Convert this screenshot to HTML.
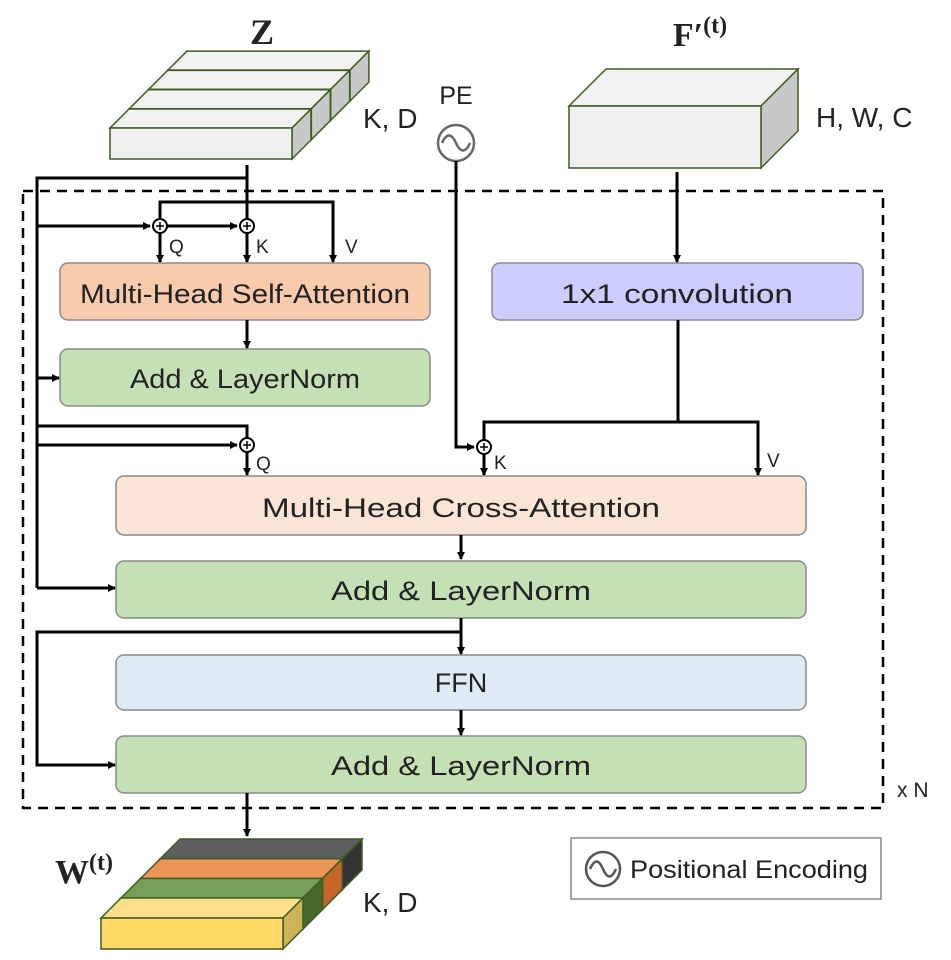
<!DOCTYPE html>
<html><head><meta charset="utf-8"><style>
html,body{margin:0;padding:0;background:#fff;}
svg{display:block;}
text{font-family:"Liberation Sans",sans-serif;fill:#222;}
</style></head><body>
<svg width="951" height="960" viewBox="0 0 951 960" xmlns="http://www.w3.org/2000/svg">
<defs>
<marker id="a" markerWidth="8" markerHeight="8" refX="7" refY="4" orient="auto" markerUnits="userSpaceOnUse"><path d="M0,0 L8,4 L0,8 z" fill="#000"/></marker>
</defs>
<text x="262" y="44" font-weight="bold" font-size="36" text-anchor="middle" style="font-family:'Liberation Serif',serif">Z</text>
<g stroke="#3d5c22" stroke-width="1.5">
<g transform="translate(57.9,-57.9)"><polygon points="110,128 292,128 311,109 129,109" fill="#f2f2f2"/><polygon points="292,128 311,109 311,140 292,159" fill="#c8c8c8"/><rect x="110" y="128" width="182" height="31" fill="#f0f0f0"/></g>
<g transform="translate(38.6,-38.6)"><polygon points="110,128 292,128 311,109 129,109" fill="#f2f2f2"/><polygon points="292,128 311,109 311,140 292,159" fill="#c8c8c8"/><rect x="110" y="128" width="182" height="31" fill="#f0f0f0"/></g>
<g transform="translate(19.3,-19.3)"><polygon points="110,128 292,128 311,109 129,109" fill="#f2f2f2"/><polygon points="292,128 311,109 311,140 292,159" fill="#c8c8c8"/><rect x="110" y="128" width="182" height="31" fill="#f0f0f0"/></g>
<g><polygon points="110,128 292,128 311,109 129,109" fill="#f2f2f2"/><polygon points="292,128 311,109 311,140 292,159" fill="#c8c8c8"/><rect x="110" y="128" width="182" height="31" fill="#f0f0f0"/></g>
</g>
<text x="363" y="128" font-size="28">K, D</text>
<text x="456" y="104" font-size="25" text-anchor="middle">PE</text>
<circle cx="456" cy="143" r="18" fill="#fff" stroke="#666" stroke-width="2.5"/>
<path d="M442,143 C447,132 452,134 456,143 C460,152 465,154 470,143" fill="none" stroke="#666" stroke-width="2.5"/>
<text x="700" y="46" font-size="34" font-weight="bold" text-anchor="middle" style="font-family:'Liberation Serif',serif">F′<tspan font-size="24" dy="-13">(t)</tspan></text>
<g stroke="#3d5c22" stroke-width="1.5">
<polygon points="569,106 761,106 798,69 606,69" fill="#f2f2f2"/>
<polygon points="761,106 798,69 798,131 761,168" fill="#c8c8c8"/>
<rect x="569" y="106" width="192" height="62" fill="#f0f0f0"/>
</g>
<text x="816" y="127" font-size="28">H, W, C</text>
<rect x="23" y="191" width="860" height="617" fill="none" stroke="#000" stroke-width="2.5" stroke-dasharray="10,7"/>
<text x="897" y="797" font-size="21">x N</text>
<g stroke="#8a8a8a" stroke-width="1.5">
<rect x="60" y="263" width="370" height="57" rx="8" fill="#f8cbad"/>
<rect x="60" y="349" width="370" height="57" rx="8" fill="#c5e0b4"/>
<rect x="492" y="263" width="371" height="57" rx="8" fill="#ccccff"/>
<rect x="116" y="476" width="690" height="59" rx="8" fill="#fbe5d6"/>
<rect x="116" y="561" width="690" height="57" rx="8" fill="#c5e0b4"/>
<rect x="116" y="655" width="690" height="55" rx="8" fill="#deebf7"/>
<rect x="116" y="736" width="690" height="57" rx="8" fill="#c5e0b4"/>
</g>
<g font-size="27" text-anchor="middle">
<text x="245" y="303" textLength="330" lengthAdjust="spacingAndGlyphs">Multi-Head Self-Attention</text>
<text x="245" y="388" textLength="230" lengthAdjust="spacingAndGlyphs">Add &amp; LayerNorm</text>
<text x="677" y="303" textLength="232" lengthAdjust="spacingAndGlyphs">1x1 convolution</text>
<text x="461" y="517" textLength="398" lengthAdjust="spacingAndGlyphs">Multi-Head Cross-Attention</text>
<text x="461" y="600" textLength="260" lengthAdjust="spacingAndGlyphs">Add &amp; LayerNorm</text>
<text x="461" y="692">FFN</text>
<text x="461" y="775" textLength="260" lengthAdjust="spacingAndGlyphs">Add &amp; LayerNorm</text>
</g>
<g stroke="#000" stroke-width="3" fill="none">
<path d="M247,165 V219"/>
<path d="M247,178 H37 V588"/>
<path d="M37,226 H150" marker-end="url(#a)"/>
<path d="M167,226 H237" marker-end="url(#a)"/>
<path d="M160,219 V202 H333 V262" marker-end="url(#a)"/>
<path d="M160,233 V262" marker-end="url(#a)"/>
<path d="M247,233 V262" marker-end="url(#a)"/>
<path d="M247,320 V348" marker-end="url(#a)"/>
<path d="M37,378 H59" marker-end="url(#a)"/>
<path d="M37,426 H247 V438"/>
<path d="M37,445 H237" marker-end="url(#a)"/>
<path d="M247,452 V475" marker-end="url(#a)"/>
<path d="M456,161 V447 H474" marker-end="url(#a)"/>
<path d="M484,440 V422 H758 V475" marker-end="url(#a)"/>
<path d="M678,320 V422"/>
<path d="M484,454 V475" marker-end="url(#a)"/>
<path d="M677,172 V262" marker-end="url(#a)"/>
<path d="M461,535 V559" marker-end="url(#a)"/>
<path d="M37,588 H115" marker-end="url(#a)"/>
<path d="M461,618 V654" marker-end="url(#a)"/>
<path d="M461,632 H37 V765 H115" marker-end="url(#a)"/>
<path d="M461,710 V735" marker-end="url(#a)"/>
<path d="M247,793 V836" marker-end="url(#a)"/>
</g>
<g stroke="#000" stroke-width="2" fill="#fff">
<circle cx="160" cy="226" r="7"/><circle cx="247" cy="226" r="7"/><circle cx="247" cy="445" r="7"/><circle cx="484" cy="447" r="7"/>
</g>
<g stroke="#000" stroke-width="1.5">
<path d="M156,226 H164 M160,222 V230"/><path d="M243,226 H251 M247,222 V230"/><path d="M243,445 H251 M247,441 V449"/><path d="M480,447 H488 M484,443 V451"/>
</g>
<g font-size="19">
<text x="169" y="253">Q</text><text x="256" y="253">K</text><text x="345" y="253">V</text>
<text x="256" y="470">Q</text><text x="494" y="469">K</text><text x="767" y="467">V</text>
</g>
<text x="55" y="883" font-size="34" font-weight="bold" style="font-family:'Liberation Serif',serif">W<tspan font-size="24" dy="-13">(t)</tspan></text>
<g stroke="#3d5c22" stroke-width="1.5">
<g transform="translate(59,-59)"><polygon points="101,918 283,918 303,898 121,898" fill="#5e5e5e"/><polygon points="283,918 303,898 303,929 283,949" fill="#333"/><rect x="101" y="918" width="182" height="31" fill="#555"/></g>
<g transform="translate(39.3,-39.3)"><polygon points="101,918 283,918 303,898 121,898" fill="#ee9659"/><polygon points="283,918 303,898 303,929 283,949" fill="#c5652a"/><rect x="101" y="918" width="182" height="31" fill="#e8894a"/></g>
<g transform="translate(19.6,-19.6)"><polygon points="101,918 283,918 303,898 121,898" fill="#76a05a"/><polygon points="283,918 303,898 303,929 283,949" fill="#476a2c"/><rect x="101" y="918" width="182" height="31" fill="#6a9450"/></g>
<g><polygon points="101,918 283,918 303,898 121,898" fill="#ffe08a"/><polygon points="283,918 303,898 303,929 283,949" fill="#cdb35a"/><rect x="101" y="918" width="182" height="31" fill="#ffd966"/></g>
</g>
<text x="363" y="912" font-size="28">K, D</text>
<rect x="571" y="838" width="310" height="61" fill="#fff" stroke="#888" stroke-width="1.5"/>
<circle cx="603" cy="869" r="17" fill="#fff" stroke="#555" stroke-width="2.5"/>
<path d="M590,869 C595,858 599,860 603,869 C607,878 611,880 616,869" fill="none" stroke="#555" stroke-width="2.5"/>
<text x="630" y="878" font-size="25" textLength="238" lengthAdjust="spacingAndGlyphs">Positional Encoding</text>
</svg>
</body></html>
